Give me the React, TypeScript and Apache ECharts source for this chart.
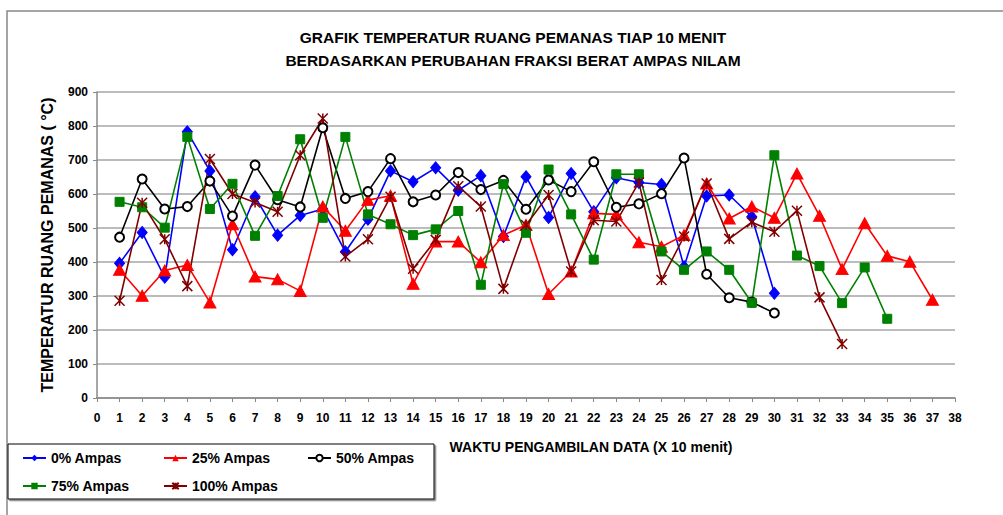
import React, { useEffect, useRef } from 'react';
import * as echarts from 'echarts';

const seriesNames = ['0% Ampas', '25% Ampas', '50% Ampas', '75% Ampas', '100% Ampas'];
const xTicks = { min: 0, max: 38, interval: 1 };
const yTicks = { min: 0, max: 900, interval: 100 };

const ampas0 = [396, 487, 355, 783, 668, 436, 592, 479, 537, 556, 430, 526, 668, 636, 677, 611, 654, 475, 651, 531, 660, 548, 648, 634, 628, 386, 594, 597, 533, 308];
const ampas25 = [377, 301, 375, 391, 281, 511, 357, 349, 315, 563, 492, 582, 595, 336, 460, 460, 399, 479, 509, 306, 372, 543, 540, 458, 445, 479, 631, 528, 563, 530, 660, 536, 379, 514, 418, 401, 289];
const ampas50 = [473, 644, 556, 563, 638, 535, 685, 583, 562, 795, 587, 607, 704, 577, 597, 663, 613, 640, 555, 641, 607, 695, 561, 571, 601, 706, 364, 295, 282, 250];
const ampas75 = [577, 561, 501, 768, 556, 630, 477, 594, 761, 530, 768, 540, 511, 479, 496, 550, 333, 629, 486, 672, 540, 407, 658, 658, 431, 377, 431, 377, 280, 714, 419, 388, 279, 384, 233];
const ampas100 = [286, 574, 467, 329, 703, 600, 575, 548, 714, 822, 416, 467, 592, 380, 465, 623, 563, 321, 509, 597, 372, 523, 519, 634, 347, 475, 631, 468, 517, 489, 551, 296, 159];

const FONT = "'Liberation Sans', Arial, sans-serif";

const toPoints = (arr: number[]) => arr.map((v, i) => [i + 1, v]);

export default function App() {
  const ref = useRef<HTMLDivElement>(null);
  useEffect(() => {
    if (!ref.current) return;
    const chart = echarts.init(ref.current, null, { renderer: 'svg' });
    const mk = (name: string, data: number[], color: string, symbol: string, size: any, extra: any = {}) => ({
      name,
      type: 'line',
      data: toPoints(data),
      symbol,
      symbolSize: size,
      showAllSymbol: true,
      lineStyle: { color, width: 1.6 },
      itemStyle: { color, borderColor: color, ...(extra.itemStyle || {}) },
      z: 3,
    });
    const legendText = { fontFamily: FONT, fontWeight: 'bold', fontSize: 14, color: '#000' };
    const legendPos = [
      { left: 22, top: 451 },
      { left: 163, top: 451 },
      { left: 307, top: 451 },
      { left: 22, top: 479 },
      { left: 163, top: 479 },
    ];
    const option: any = {
      animation: false,
      backgroundColor: '#fff',
      grid: { left: 97, right: 48, top: 92, bottom: 117, containLabel: false },
      xAxis: {
        type: 'value',
        min: xTicks.min,
        max: xTicks.max,
        interval: xTicks.interval,
        axisLine: { show: true, lineStyle: { color: '#888', width: 1.5 } },
        axisTick: { show: true, length: 4, lineStyle: { color: '#888' } },
        axisLabel: { margin: 14, fontFamily: FONT, fontWeight: 'bold', fontSize: 12, color: '#000' },
        splitLine: { show: false },
      },
      yAxis: {
        type: 'value',
        min: yTicks.min,
        max: yTicks.max,
        interval: yTicks.interval,
        name: 'TEMPERATUR RUANG PEMANAS ( °C)',
        nameLocation: 'middle',
        nameRotate: 90,
        nameGap: 42,
        nameTextStyle: { fontFamily: FONT, fontWeight: 'bold', fontSize: 16, color: '#000' },
        axisLine: { show: true, lineStyle: { color: '#888', width: 1.5 } },
        axisTick: { show: true, length: 4, lineStyle: { color: '#888' } },
        axisLabel: { margin: 9, fontFamily: FONT, fontWeight: 'bold', fontSize: 12, color: '#000' },
        splitLine: { show: true, lineStyle: { color: '#a6a6a6', width: 1.5 } },
      },
      legend: seriesNames.map((n, i) => ({
        data: [n],
        ...legendPos[i],
        itemWidth: 23,
        itemHeight: 8,
        padding: 0,
        textStyle: legendText,
        z: 10,
      })),
      graphic: [
        {
          type: 'rect',
          shape: { x: 7, y: 11, width: 1200, height: 700 },
          style: { fill: 'none', stroke: '#888', lineWidth: 1.5 },
          silent: true,
          z: -1,
        },
        {
          type: 'text',
          x: 513,
          y: 37,
          style: { text: 'GRAFIK TEMPERATUR RUANG PEMANAS TIAP 10 MENIT', fontFamily: FONT, fontWeight: 'bold', fontSize: 15.5, fill: '#000', textAlign: 'center', textVerticalAlign: 'middle' },
        },
        {
          type: 'text',
          x: 513,
          y: 60,
          style: { text: 'BERDASARKAN PERUBAHAN FRAKSI BERAT AMPAS NILAM', fontFamily: FONT, fontWeight: 'bold', fontSize: 15.5, fill: '#000', textAlign: 'center', textVerticalAlign: 'middle' },
        },
        {
          type: 'text',
          x: 591,
          y: 447,
          style: { text: 'WAKTU PENGAMBILAN DATA (X 10 menit)', fontFamily: FONT, fontWeight: 'bold', fontSize: 14, fill: '#000', textAlign: 'center', textVerticalAlign: 'middle' },
        },
        {
          type: 'rect',
          shape: { x: 8, y: 444, width: 426, height: 55 },
          style: { fill: '#fff', stroke: '#000', lineWidth: 1, shadowColor: '#777', shadowOffsetX: 1.5, shadowOffsetY: 1.5, shadowBlur: 0 },
          z: 5,
        },
      ],
      series: [
        mk(seriesNames[0], ampas0, '#0000ff', 'diamond', [10, 12]),
        mk(seriesNames[1], ampas25, '#ff0000', 'triangle', [12, 11]),
        mk(seriesNames[2], ampas50, '#000000', 'emptyCircle', 9),
        mk(seriesNames[3], ampas75, '#008000', 'rect', 9),
        mk(seriesNames[4], ampas100, '#800000', 'path://M0,0L10,10M10,0L0,10M5,0L5,10', 10, { itemStyle: { borderWidth: 1.5 } }),
      ],
    };
    chart.setOption(option);
    return () => chart.dispose();
  }, []);
  return <div ref={ref} style={{ position: 'absolute', left: 0, top: 0, width: 1003, height: 515 }} />;
}
